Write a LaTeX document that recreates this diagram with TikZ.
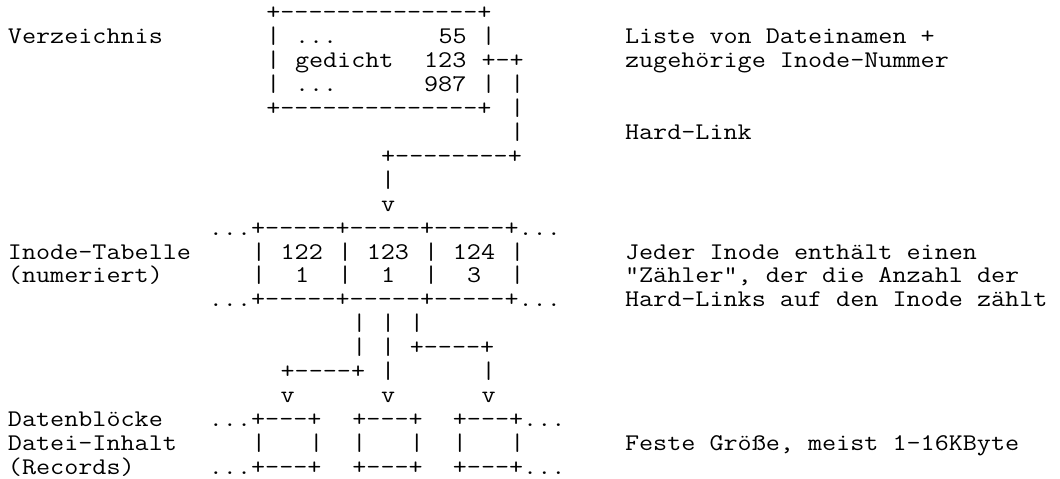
\documentclass[tikz,border=0pt]{standalone}
\usepackage{fontspec}
\setmonofont{Latin Modern Mono}[FakeStretch=1.142857]
\newcommand\asciifont{\ttfamily\fontsize{23.92pt}{24pt}\selectfont\frenchspacing
  \fontdimen2\font=\fontcharwd\font`x\relax\fontdimen3\font=0pt\relax\fontdimen4\font=0pt\relax}
\tikzset{asc/.style={anchor=base west, inner sep=0pt, outer sep=0pt, font=\asciifont, text=black}}
% #1 name, #2 column, #3 line, #4 text
\newcommand\T[4]{\node[asc] (#1) at ({8pt+#2*14.35pt},{-19.5pt-(#3-1)*23.95pt}) {#4};}
\begin{document}
\begin{tikzpicture}
\useasboundingbox[fill=white] (0,0) rectangle (1060pt,-479pt);
% Verzeichnis
\T{boxtop}{18}{1}{+--------------+}
\T{lverz}{0}{2}{Verzeichnis}
\T{b2l}{18}{2}{|}
\T{b2d}{20}{2}{...}
\T{b2n}{30}{2}{55}
\T{b2r}{33}{2}{|}
\T{r2}{43}{2}{Liste von Dateinamen +}
\T{b3l}{18}{3}{|}
\T{b3g}{20}{3}{gedicht}
\T{b3n}{29}{3}{123}
\T{b3r}{33}{3}{+-+}
\T{r3}{43}{3}{zugehörige Inode-Nummer}
\T{b4l}{18}{4}{|}
\T{b4d}{20}{4}{...}
\T{b4n}{29}{4}{987}
\T{b4r}{33}{4}{|}
\T{c4}{35}{4}{|}
\T{boxbot}{18}{5}{+--------------+}
\T{c5}{35}{5}{|}
\T{c6}{35}{6}{|}
\T{r6}{43}{6}{Hard-Link}
\T{c7}{26}{7}{+--------+}
\T{c8}{26}{8}{|}
\T{c9}{26}{9}{v}
% Inode-Tabelle
\T{itop}{14}{10}{...+-----+-----+-----+...}
\T{linode}{0}{11}{Inode-Tabelle}
\T{i11a}{17}{11}{|}
\T{i11b}{19}{11}{122}
\T{i11c}{23}{11}{|}
\T{i11d}{25}{11}{123}
\T{i11e}{29}{11}{|}
\T{i11f}{31}{11}{124}
\T{i11g}{35}{11}{|}
\T{r11}{43}{11}{Jeder Inode enthält einen}
\T{lnum}{0}{12}{(numeriert)}
\T{i12a}{17}{12}{|}
\T{i12b}{20}{12}{1}
\T{i12c}{23}{12}{|}
\T{i12d}{26}{12}{1}
\T{i12e}{29}{12}{|}
\T{i12f}{32}{12}{3}
\T{i12g}{35}{12}{|}
\T{r12}{43}{12}{"Zähler", der die Anzahl der}
\T{ibot}{14}{13}{...+-----+-----+-----+...}
\T{r13}{43}{13}{Hard-Links auf den Inode zählt}
% connectors to data blocks
\T{d14a}{24}{14}{|}
\T{d14b}{26}{14}{|}
\T{d14c}{28}{14}{|}
\T{d15a}{24}{15}{|}
\T{d15b}{26}{15}{|}
\T{d15c}{28}{15}{+----+}
\T{d16a}{19}{16}{+----+}
\T{d16b}{26}{16}{|}
\T{d16c}{33}{16}{|}
\T{d17a}{19}{17}{v}
\T{d17b}{26}{17}{v}
\T{d17c}{33}{17}{v}
% Datenbloecke
\T{ldat}{0}{18}{Datenblöcke}
\T{k18a}{14}{18}{...+---+}
\T{k18b}{24}{18}{+---+}
\T{k18c}{31}{18}{+---+...}
\T{linh}{0}{19}{Datei-Inhalt}
\T{k19a}{17}{19}{|}
\T{k19b}{21}{19}{|}
\T{k19c}{24}{19}{|}
\T{k19d}{28}{19}{|}
\T{k19e}{31}{19}{|}
\T{k19f}{35}{19}{|}
\T{r19}{43}{19}{Feste Größe, meist 1-16KByte}
\T{lrec}{0}{20}{(Records)}
\T{k20a}{14}{20}{...+---+}
\T{k20b}{24}{20}{+---+}
\T{k20c}{31}{20}{+---+...}
\end{tikzpicture}
\end{document}
